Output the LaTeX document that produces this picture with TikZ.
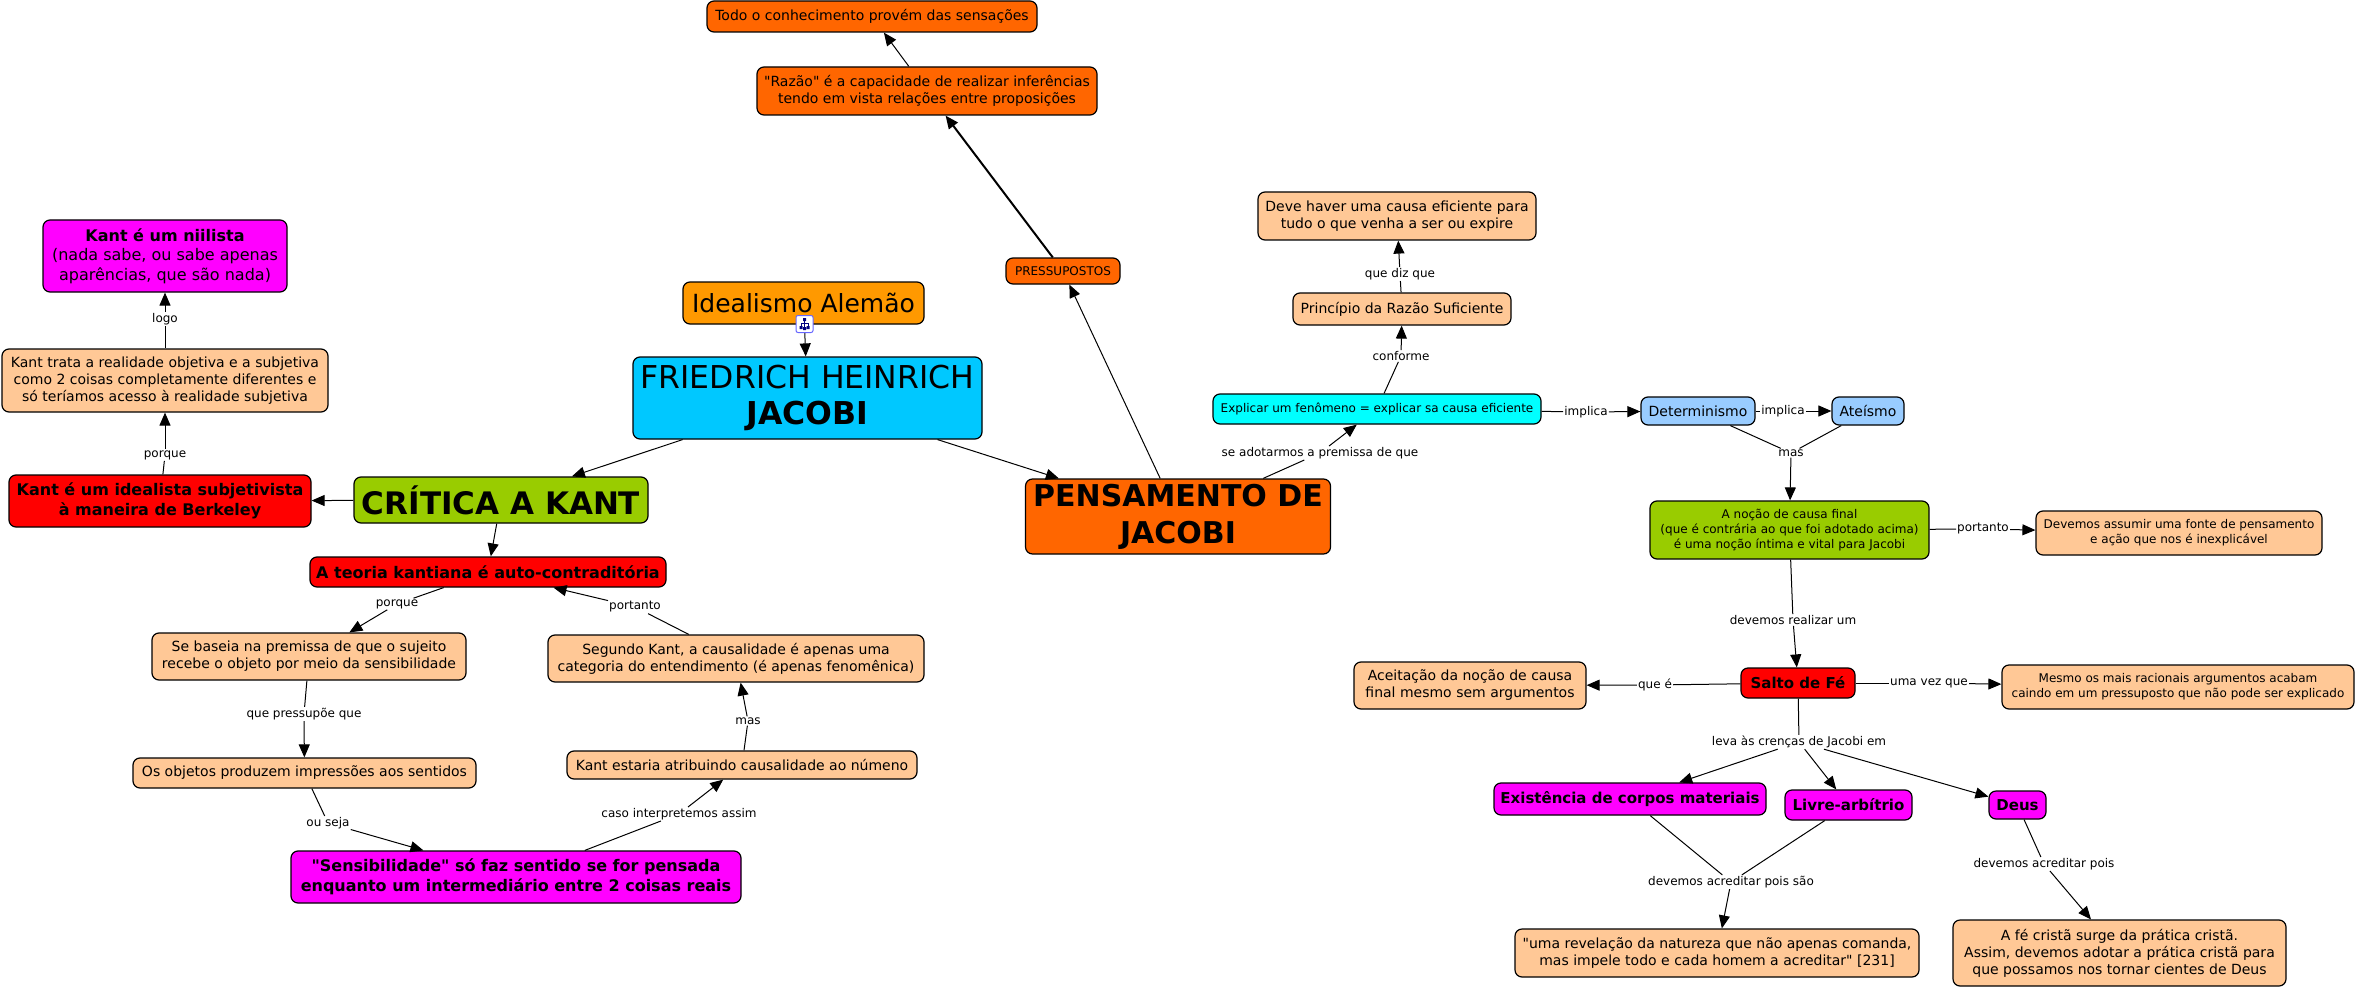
\documentclass[tikz,border=0pt]{standalone}
\usepackage{fontspec}
\setmainfont{DejaVu Sans}[Ligatures=TeXOff]
\usetikzlibrary{arrows.meta}
\definecolor{peach}{HTML}{FFC896}
\definecolor{laranja}{HTML}{FF6600}
\definecolor{ambar}{HTML}{FF9900}
\definecolor{azul}{HTML}{00C8FF}
\definecolor{celeste}{HTML}{99CCFF}
\definecolor{verde}{HTML}{99CC00}
\definecolor{rosa}{HTML}{FF00FF}
\definecolor{ciano}{HTML}{00FFFF}
\tikzset{
  box/.style={draw=black,line width=1.2pt,rounded corners=7pt,align=center,inner sep=0pt,text=black,
    font=\fontsize{14}{17}\selectfont},
  small/.style={font=\fontsize{12}{14.7}\selectfont},
  strong/.style={font=\fontsize{16}{19.5}\selectfont\bfseries},
  medium/.style={font=\fontsize{15}{18}\selectfont\bfseries},
  huge/.style={font=\fontsize{31.5}{36.5}\selectfont},
  lab/.style={fill=white,inner sep=1pt,text=black,font=\fontsize{12}{14}\selectfont},
  link/.style={line width=1pt},
  arr/.style={line width=1pt,-{Triangle[length=13pt,width=11pt]}},
}
\begin{document}
\begin{tikzpicture}[x=1pt,y=-1pt]
  \useasboundingbox (0,0) rectangle (2356,987);
  %centro
  \node[box,fill=ambar,font=\fontsize{25}{30}\selectfont,minimum width=241pt,minimum height=42pt] (idealismo) at (803.5,303) {Idealismo Alemão};
  \node[box,huge,fill=azul,minimum width=349pt,minimum height=82pt] (friedrich) at (807.5,398) {FRIEDRICH HEINRICH\\\textbf{JACOBI}};
  \node[box,fill=verde,font=\fontsize{31}{36}\selectfont\bfseries,minimum width=294pt,minimum height=46pt] (critica) at (501,500) {CRÍTICA A KANT};
  \node[box,fill=laranja,font=\fontsize{30}{37}\selectfont\bfseries,minimum width=305pt,minimum height=75pt] (pensamento) at (1178,516.5) {PENSAMENTO DE\\JACOBI};
  %esquerda
  \node[box,fill=rosa,font=\fontsize{16}{19.5}\selectfont,minimum width=244pt,minimum height=72pt] (niilista) at (165,256) {\textbf{Kant é um niilista}\\(nada sabe, ou sabe apenas\\aparências, que são nada)};
  \node[box,fill=peach,minimum width=326pt,minimum height=63pt] (kanttrata) at (165,380.5) {Kant trata a realidade objetiva e a subjetiva\\como 2 coisas completamente diferentes e\\só teríamos acesso à realidade subjetiva};
  \node[box,strong,fill=red,minimum width=302pt,minimum height=52pt] (idealista) at (160,501) {Kant é um idealista subjetivista\\à maneira de Berkeley};
  \node[box,strong,fill=red,minimum width=356pt,minimum height=30pt] (teoria) at (488,572) {A teoria kantiana é auto-contraditória};
  \node[box,fill=peach,minimum width=314pt,minimum height=47pt] (sebaseia) at (309,656.5) {Se baseia na premissa de que o sujeito\\recebe o objeto por meio da sensibilidade};
  \node[box,fill=peach,minimum width=376pt,minimum height=47pt] (segundo) at (736,658.5) {Segundo Kant, a causalidade é apenas uma\\categoria do entendimento (é apenas fenomênica)};
  \node[box,fill=peach,minimum width=343pt,minimum height=30pt] (objetos) at (304.5,773) {Os objetos produzem impressões aos sentidos};
  \node[box,fill=peach,minimum width=350pt,minimum height=28pt] (estaria) at (742,765) {Kant estaria atribuindo causalidade ao númeno};
  \node[box,strong,fill=rosa,minimum width=450pt,minimum height=52pt] (sensibilidade) at (516,877) {"Sensibilidade" só faz sentido se for pensada\\enquanto um intermediário entre 2 coisas reais};
  %topo
  \node[box,fill=laranja,minimum width=330pt,minimum height=31pt] (todo) at (872,16.5) {Todo o conhecimento provém das sensações};
  \node[box,fill=laranja,minimum width=340pt,minimum height=48pt] (razao) at (927,91) {"Razão" é a capacidade de realizar inferências\\tendo em vista relações entre proposições};
  \node[box,small,fill=laranja,minimum width=114pt,minimum height=26pt] (pressupostos) at (1063,271) {PRESSUPOSTOS};
  %direita
  \node[box,fill=peach,minimum width=278pt,minimum height=48pt] (devehaver) at (1397,216) {Deve haver uma causa eficiente para\\tudo o que venha a ser ou expire};
  \node[box,fill=peach,minimum width=218pt,minimum height=32pt] (principio) at (1402,309) {Princípio da Razão Suficiente};
  \node[box,small,fill=ciano,minimum width=328pt,minimum height=30pt] (explicar) at (1377,409) {Explicar um fenômeno = explicar sa causa eficiente};
  \node[box,fill=celeste,minimum width=114pt,minimum height=28pt] (determinismo) at (1698,411) {Determinismo};
  \node[box,fill=celeste,minimum width=72pt,minimum height=28pt] (ateismo) at (1868,411) {Ateísmo};
  \node[box,small,fill=verde,minimum width=279pt,minimum height=58pt] (nocao) at (1789.5,530) {A noção de causa final\\(que é contrária ao que foi adotado acima)\\é uma noção íntima e vital para Jacobi};
  \node[box,small,fill=peach,minimum width=286pt,minimum height=44pt] (assumir) at (2179,533) {Devemos assumir uma fonte de pensamento\\e ação que nos é inexplicável};
  \node[box,fill=peach,minimum width=232pt,minimum height=47pt] (aceitacao) at (1470,685.5) {Aceitação da noção de causa\\final mesmo sem argumentos};
  \node[box,medium,fill=red,minimum width=114pt,minimum height=30pt] (salto) at (1798,683) {Salto de Fé};
  \node[box,small,fill=peach,minimum width=352pt,minimum height=44pt] (mesmo) at (2178,687) {Mesmo os mais racionais argumentos acabam\\caindo em um pressuposto que não pode ser explicado};
  \node[box,medium,fill=rosa,minimum width=272pt,minimum height=32pt] (existencia) at (1630,799) {Existência de corpos materiais};
  \node[box,medium,fill=rosa,minimum width=127pt,minimum height=30pt] (livre) at (1848.5,805) {Livre-arbítrio};
  \node[box,medium,fill=rosa,minimum width=57pt,minimum height=28pt] (deus) at (2017.5,805) {Deus};
  \node[box,fill=peach,minimum width=404pt,minimum height=48pt] (revelacao) at (1717,953) {"uma revelação da natureza que não apenas comanda,\\mas impele todo e cada homem a acreditar" [231]};
  \node[box,fill=peach,minimum width=333pt,minimum height=66pt] (afe) at (2119.5,953) {A fé cristã surge da prática cristã.\\Assim, devemos adotar a prática cristã para\\que possamos nos tornar cientes de Deus};
  %rotulos
  \node[lab] (logo) at (165,319) {logo};
  \node[lab] (porquea) at (165,455) {porque};
  \node[lab] (porqueb) at (397,604) {porque};
  \node[lab] (portantoa) at (635,607) {portanto};
  \node[lab] (pressupoe) at (304,714) {que pressupõe que};
  \node[lab] (masa) at (748,721) {mas};
  \node[lab] (ouseja) at (328,823) {ou seja};
  \node[lab] (caso) at (679,814) {caso interpretemos assim};
  \node[lab] (adotarmos) at (1320,453) {se adotarmos a premissa de que};
  \node[lab] (conforme) at (1401,356) {conforme};
  \node[lab] (diz) at (1400,274) {que diz que};
  \node[lab] (implicaa) at (1586,412) {implica};
  \node[lab] (implicab) at (1783,411) {implica};
  \node[lab] (masb) at (1791,453) {mas};
  \node[lab] (portantob) at (1983,529) {portanto};
  \node[lab] (realizar) at (1793,620) {devemos realizar um};
  \node[lab] (quee) at (1655,685) {que é};
  \node[lab] (umavez) at (1929,683) {uma vez que};
  \node[lab] (leva) at (1799,742) {leva às crenças de Jacobi em};
  \node[lab] (poissao) at (1731,882) {devemos acreditar pois são};
  \node[lab] (pois) at (2044,864) {devemos acreditar pois};
  %ligacoes
  \draw[arr] (idealismo) -- (friedrich);
  \draw[arr] (friedrich) -- (critica);
  \draw[arr] (friedrich) -- (pensamento);
  \draw[arr] (critica) -- (idealista);
  \draw[arr] (critica) -- (teoria);
  \draw[link] (idealista) -- (porquea);
  \draw[arr] (porquea) -- (kanttrata);
  \draw[link] (kanttrata) -- (logo);
  \draw[arr] (logo) -- (niilista);
  \draw[link] (teoria) -- (porqueb);
  \draw[arr] (porqueb) -- (sebaseia);
  \draw[link] (sebaseia) -- (pressupoe);
  \draw[arr] (pressupoe) -- (objetos);
  \draw[link] (objetos) -- (ouseja);
  \draw[arr] (ouseja) -- (sensibilidade);
  \draw[link] (sensibilidade) -- (caso);
  \draw[arr] (caso) -- (estaria);
  \draw[link] (estaria) -- (masa);
  \draw[arr] (masa) -- (segundo);
  \draw[link] (segundo) -- (portantoa);
  \draw[arr] (portantoa) -- (teoria);
  \draw[arr] (pensamento) -- (pressupostos);
  \draw[arr,line width=2pt] (pressupostos) -- (razao);
  \draw[arr] (razao) -- (todo);
  \draw[link] (pensamento) -- (adotarmos);
  \draw[arr] (adotarmos) -- (explicar);
  \draw[link] (explicar) -- (conforme);
  \draw[arr] (conforme) -- (principio);
  \draw[link] (principio) -- (diz);
  \draw[arr] (diz) -- (devehaver);
  \draw[link] (explicar) -- (implicaa);
  \draw[arr] (implicaa) -- (determinismo);
  \draw[link] (determinismo) -- (implicab);
  \draw[arr] (implicab) -- (ateismo);
  \draw[link] (determinismo) -- (masb);
  \draw[link] (ateismo) -- (masb);
  \draw[arr] (masb) -- (nocao);
  \draw[link] (nocao) -- (portantob);
  \draw[arr] (portantob) -- (assumir);
  \draw[link] (nocao) -- (realizar);
  \draw[arr] (realizar) -- (salto);
  \draw[link] (salto) -- (quee);
  \draw[arr] (quee) -- (aceitacao);
  \draw[link] (salto) -- (umavez);
  \draw[arr] (umavez) -- (mesmo);
  \draw[link] (salto) -- (leva);
  \draw[arr] (leva) -- (existencia);
  \draw[arr] (leva) -- (livre);
  \draw[arr] (leva) -- (deus);
  \draw[link] (existencia) -- (poissao);
  \draw[link] (livre) -- (poissao);
  \draw[arr] (poissao) -- (revelacao);
  \draw[link] (deus) -- (pois);
  \draw[arr] (pois) -- (afe);
  %icone
  \node[draw=blue!60!white,fill=white,line width=1pt,rounded corners=2pt,minimum size=17pt,inner sep=0pt] (icone) at (804.5,324) {};
  \draw[blue!50!black,line width=0.8pt] (801,326) -- (801,323) -- (808,323) -- (808,326) (804.5,320) -- (804.5,329);
  \fill[blue!50!black] (803,318) rectangle (806,321) (799.5,326) rectangle (802.5,329) (803,327) rectangle (806,330) (806.5,326) rectangle (809.5,329);
\end{tikzpicture}
\end{document}
